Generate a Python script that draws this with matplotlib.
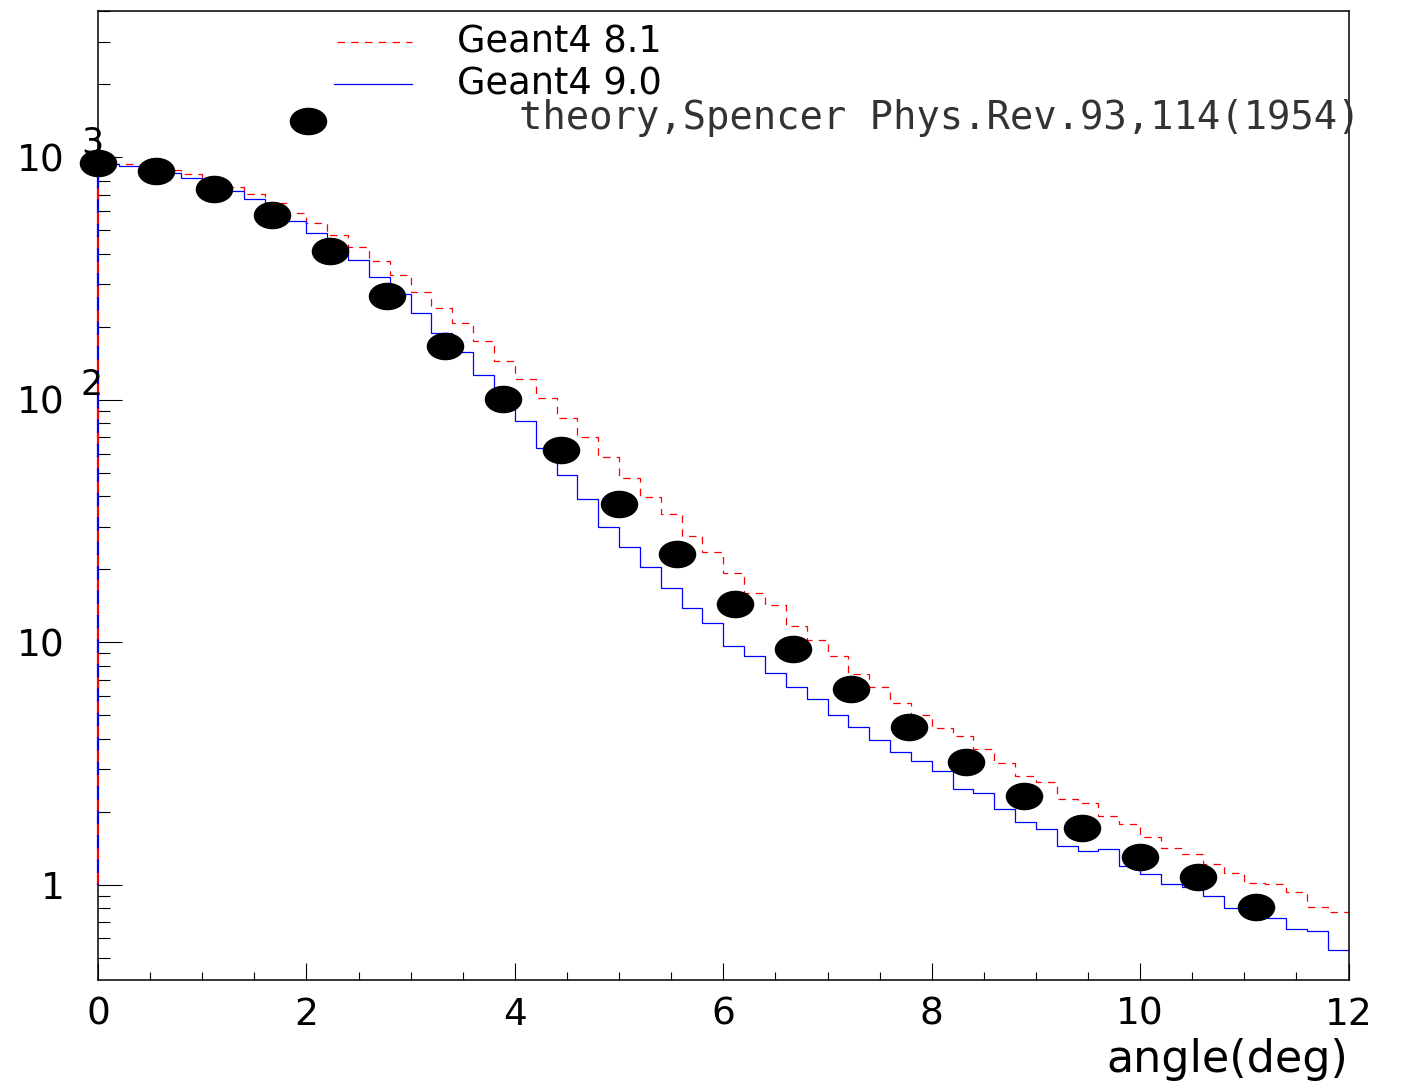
import numpy as np
import matplotlib
matplotlib.use("Agg")
import matplotlib.pyplot as plt
from matplotlib.path import Path
from matplotlib.transforms import Affine2D

# Histogram binning: 60 bins of 0.2 deg from 0 to 12
bin_edges = np.linspace(0, 12, 61)

# Geant4 8.1 (red dashed)
g4_81 = [939, 939, 915, 886, 853, 806, 756, 708, 650, 589,
         536, 477, 425, 372, 326, 279, 240, 207, 174, 145,
         122, 102, 84, 70, 58, 47.4, 39.7, 33.8, 27.4, 23.5,
         19.3, 15.9, 14.2, 11.7, 10.2, 8.76, 7.39, 6.51, 5.63, 4.99,
         4.44, 4.10, 3.62, 3.18, 2.80, 2.65, 2.26, 2.18, 1.92, 1.78,
         1.57, 1.42, 1.34, 1.22, 1.12, 1.02, 1.01, 0.93, 0.81, 0.77]

# Geant4 9.0 (blue solid)
g4_90 = [939, 921, 901, 864, 821, 776, 728, 671, 616, 547,
         487, 428, 376, 322, 272, 228, 189, 158, 126, 103,
         82, 63, 49, 39, 30, 24.7, 20.5, 16.8, 13.9, 11.95,
         9.64, 8.74, 7.48, 6.51, 5.81, 5.00, 4.47, 3.95, 3.53, 3.22,
         2.95, 2.48, 2.38, 2.06, 1.81, 1.69, 1.44, 1.37, 1.40, 1.19,
         1.105, 1.01, 0.98, 0.90, 0.80, 0.748, 0.73, 0.653, 0.645, 0.537]

# Theory points (Spencer)
theory_x = [0.0, 0.556, 1.111, 1.667, 2.222, 2.778, 3.333, 3.889, 4.444, 5.0,
            5.556, 6.111, 6.667, 7.222, 7.778, 8.333, 8.889, 9.444, 10.0, 10.556, 11.111]
theory_y = [949, 880, 742, 579, 411, 268, 167, 101, 62.2, 37.3,
            23.2, 14.4, 9.40, 6.43, 4.48, 3.19, 2.31, 1.72, 1.30, 1.07, 0.81]

legend_labels = ["Geant4 8.1", "Geant4 9.0", "theory,Spencer Phys.Rev.93,114(1954)"]

FONT = "DejaVu Sans"
plt.rcParams['font.family'] = [FONT]

fig = plt.figure(figsize=(14.28, 10.87), dpi=100)
ax = fig.add_axes([0.0686, 0.0984, 0.8758, 0.8915])

red_style = dict(color="#ff0000", lw=0.9, linestyle=(0, (6, 5)))
blue_style = dict(color="#0000ff", lw=0.9, linestyle="-")

# histograms, with the left edge drawn down to 1 like the ROOT output
ax.stairs(g4_81, bin_edges, baseline=None, **red_style)
ax.stairs(g4_90, bin_edges, baseline=None, **blue_style)
# left edge sits on the y axis: alternating red/blue dashes, drawn over the spine
ax.vlines(bin_edges[0], 1, g4_81[0], colors="#ff0000", lw=1.6,
          linestyles=(0, (6, 5)), zorder=3, clip_on=False)
ax.vlines(bin_edges[0], 1, g4_90[0], colors="#0000ff", lw=1.6,
          linestyles=(5.5, (6, 5)), zorder=3, clip_on=False)

# the picture is stretched horizontally, so the dots are ellipses
ellipse = Path.unit_circle().transformed(Affine2D().scale(1.38, 1.0))
ax.plot(theory_x, theory_y, linestyle="none", marker=ellipse, ms=26,
        color="black", zorder=5, clip_on=False)

ax.set_yscale("log")
ax.set_xlim(0, 12)
ax.set_ylim(0.404, 4014)

# axis ticks in ROOT style
ax.set_xticks([0, 2, 4, 6, 8, 10, 12])
ax.set_xticks(np.arange(0, 12.01, 0.5), minor=True)
ax.set_yticks([1, 10, 100, 1000])
ax.set_yticklabels(["1", "10", "10", "10"])
ax.yaxis.set_minor_locator(matplotlib.ticker.LogLocator(base=10, subs=np.arange(2, 10)))
ax.yaxis.set_minor_formatter(matplotlib.ticker.NullFormatter())
ax.tick_params(axis="x", which="major", direction="in", length=12.2, width=0.8,
               labelsize=27, pad=12, top=False)
ax.tick_params(axis="x", which="minor", direction="in", length=6.1, width=0.8, top=False)
ax.tick_params(axis="y", which="major", direction="in", length=17.3, width=0.8,
               labelsize=27, pad=24, right=False)
ax.tick_params(axis="y", which="minor", direction="in", length=8.6, width=0.8, right=False)

# exponents of the 10^n labels
for val, exp in [(100, "2"), (1000, "3")]:
    ax.annotate(exp, xy=(0, val), xycoords=ax.get_yaxis_transform(),
                xytext=(-17, 15), textcoords="offset pixels",
                ha="left", va="center", fontsize=25, annotation_clip=False)

for sp in ax.spines.values():
    sp.set_linewidth(1.1)
    sp.set_color("black")

ax.set_xlabel("angle(deg)", fontsize=32, loc="right", labelpad=4)

# legend drawn by hand, placed as in the original
ax.plot([0.191, 0.251], [0.968, 0.968], transform=ax.transAxes, **red_style)
ax.plot([0.189, 0.251], [0.925, 0.925], transform=ax.transAxes, **blue_style)
ax.plot([0.1678], [0.8865], transform=ax.transAxes, linestyle="none",
        marker=ellipse, ms=26, color="black")
ax.text(0.287, 0.968, legend_labels[0], transform=ax.transAxes, fontsize=26.5,
        va="center", ha="left")
ax.text(0.287, 0.925, legend_labels[1], transform=ax.transAxes, fontsize=26.5,
        va="center", ha="left")
ax.text(0.3366, 0.8896, legend_labels[2], transform=ax.transAxes, fontsize=28,
        family="DejaVu Sans Mono", color="#333333", va="center", ha="left",
        clip_on=False)

fig.savefig("out.png", dpi=100)
